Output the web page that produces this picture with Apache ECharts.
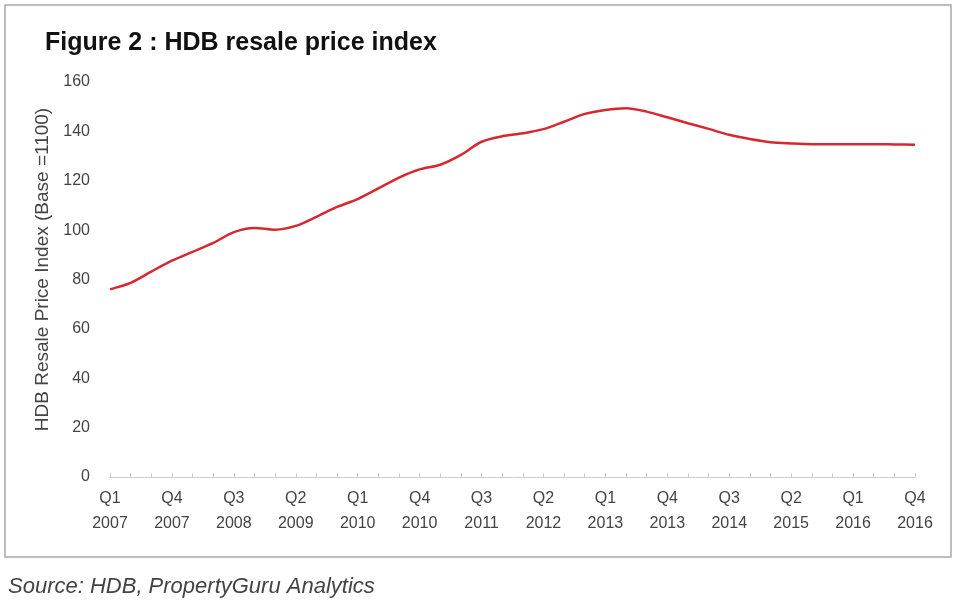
<!DOCTYPE html>
<html>
<head>
<meta charset="utf-8">
<script src="https://cdn.jsdelivr.net/npm/echarts@6/dist/echarts.min.js"></script>
<style>html,body{margin:0;padding:0;background:#fff;}#c{width:960px;height:602px;}</style>
</head>
<body>
<div id="c"></div>
<script>
const quarters = ['Q1','Q2','Q3','Q4'];
const years = [2007,2008,2009,2010,2011,2012,2013,2014,2015,2016];
const categories = [];
years.forEach(y => quarters.forEach(q => categories.push(q + '\n' + y)));
const resaleIndex = [
  76.0, 78.6, 83.2, 87.6, 91.2, 94.8, 99.2, 100.9, 100.2, 101.7,
  105.4, 109.4, 112.6, 116.9, 121.3, 124.6, 126.5, 130.5, 135.8, 138.0,
  139.2, 140.9, 143.9, 147.1, 148.7, 149.4, 148.0, 145.7, 143.3, 141.0,
  138.6, 136.9, 135.6, 135.1, 134.8, 134.8, 134.8, 134.8, 134.7, 134.6
];
const titleText = 'Figure 2 : HDB resale price index';
const yAxisName = 'HDB Resale Price Index (Base =1100)';
const sourceText = 'Source: HDB, PropertyGuru Analytics';

const FONT = 'Liberation Sans, Arial, sans-serif';
const chart = echarts.init(document.getElementById('c'));
chart.setOption({
  animation: false,
  backgroundColor: '#fff',
  title: {
    text: titleText, left: 40, top: 26,
    textStyle: {fontFamily: FONT, fontSize: 25, fontWeight: 'bold', color: '#111'}
  },
  grid: {left: 110, right: 45, top: 82, bottom: 125},
  xAxis: {
    type: 'category', data: categories, boundaryGap: false,
    axisLine: {lineStyle: {color: '#cfcfcf', width: 1}},
    axisTick: {show: true, inside: true, length: 4, interval: 0, lineStyle: {color: '#cfcfcf'}},
    axisLabel: {interval: 2, margin: 9, fontFamily: FONT, fontSize: 16, color: '#444', lineHeight: 25}
  },
  yAxis: {
    type: 'value', min: 0, max: 160, interval: 20,
    name: yAxisName, nameLocation: 'middle', nameGap: 54, nameRotate: 90,
    nameTextStyle: {fontFamily: FONT, fontSize: 19, color: '#444', padding: [0, 0, 0, 20]},
    axisLine: {show: false}, axisTick: {show: false}, splitLine: {show: false},
    axisLabel: {margin: 20, fontFamily: FONT, fontSize: 16, color: '#444'}
  },
  series: [{
    type: 'line', data: resaleIndex, smooth: 0.3, symbol: 'none',
    lineStyle: {color: '#d7282f', width: 2.5}
  }],
  graphic: [
    {type: 'rect', shape: {x: 5, y: 5, width: 946, height: 552}, style: {fill: 'none', stroke: '#a8a8a8', lineWidth: 1.5}, z: -1},
    {type: 'text', left: 8, top: 576, style: {text: sourceText, fontFamily: FONT, fontSize: 22, fontStyle: 'italic', fill: '#444'}}
  ]
});
</script>
</body>
</html>
